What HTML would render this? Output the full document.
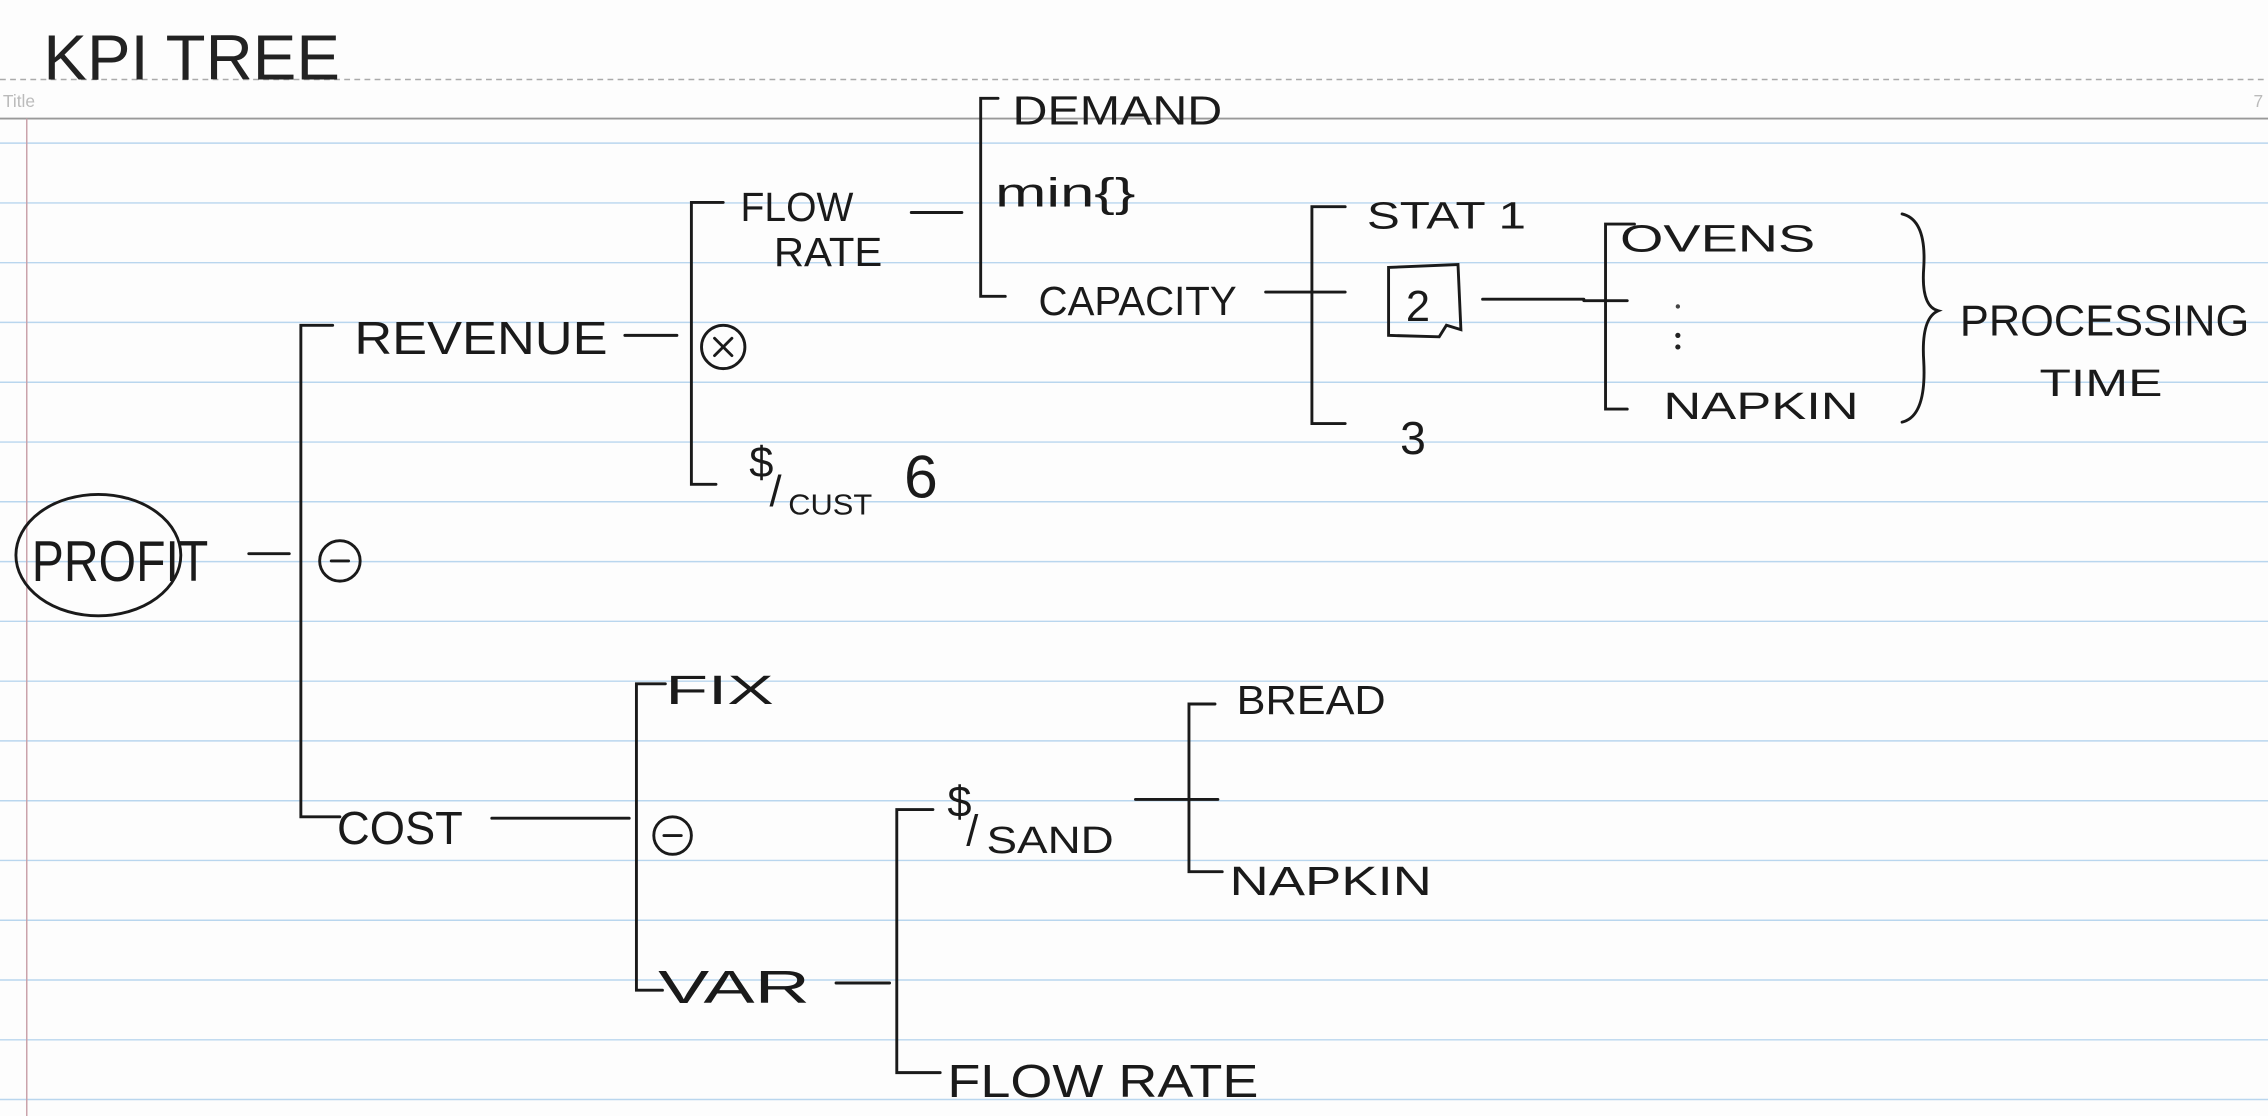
<!DOCTYPE html>
<html><head><meta charset="utf-8"><style>
html,body{margin:0;padding:0;background:#fdfdfd;}
svg{display:block;}
text{font-family:"Liberation Sans",sans-serif;fill:#1a1a1a;}
</style></head><body>
<svg width="2268" height="1116" viewBox="0 0 1568 772" preserveAspectRatio="none" xmlns="http://www.w3.org/2000/svg">
<rect width="1568" height="772" fill="#fdfdfd"/>
<g stroke="#b9d6ee" stroke-width="1">
<line x1="0" y1="99" x2="1568" y2="99"/><line x1="0" y1="140.4" x2="1568" y2="140.4"/><line x1="0" y1="181.7" x2="1568" y2="181.7"/><line x1="0" y1="223" x2="1568" y2="223"/><line x1="0" y1="264.4" x2="1568" y2="264.4"/><line x1="0" y1="305.8" x2="1568" y2="305.8"/><line x1="0" y1="347.1" x2="1568" y2="347.1"/><line x1="0" y1="388.5" x2="1568" y2="388.5"/><line x1="0" y1="429.8" x2="1568" y2="429.8"/><line x1="0" y1="471.2" x2="1568" y2="471.2"/><line x1="0" y1="512.5" x2="1568" y2="512.5"/><line x1="0" y1="553.9" x2="1568" y2="553.9"/><line x1="0" y1="595.2" x2="1568" y2="595.2"/><line x1="0" y1="636.6" x2="1568" y2="636.6"/><line x1="0" y1="677.9" x2="1568" y2="677.9"/><line x1="0" y1="719.3" x2="1568" y2="719.3"/><line x1="0" y1="760.6" x2="1568" y2="760.6"/>
</g>
<line x1="0" y1="55" x2="1568" y2="55" stroke="#aaa" stroke-width="1" stroke-dasharray="4,3"/>
<line x1="0" y1="82" x2="1568" y2="82" stroke="#999" stroke-width="1.3"/>
<line x1="18.5" y1="82" x2="18.5" y2="772" stroke="#c9a0a8" stroke-width="1"/>
<text x="2" y="74" font-size="12" style="fill:#bbb">Title</text>
<text x="1558" y="74" font-size="12" style="fill:#bbb">7</text>
<text x="30" y="55" font-size="44" textLength="205" lengthAdjust="spacingAndGlyphs" style="fill:#222">KPI TREE</text>

<g stroke="#1a1a1a" stroke-width="2" fill="none" stroke-linecap="round">
<ellipse cx="68" cy="384" rx="57" ry="42"/>
<line x1="172" y1="383" x2="200" y2="383"/>
<polyline points="230,225 208,225 208,565 235,565"/>
<circle cx="235" cy="388" r="14"/><line x1="229" y1="388" x2="241" y2="388"/>
<line x1="432" y1="232" x2="468" y2="232"/>
<polyline points="500,140 478,140 478,335 495,335"/>
<circle cx="500" cy="240" r="15"/><line x1="494" y1="234" x2="506" y2="246"/><line x1="506" y1="234" x2="494" y2="246"/>
<line x1="630" y1="147" x2="665" y2="147"/>
<polyline points="690,68 678,68 678,205 695,205"/>
<line x1="875" y1="202" x2="930" y2="202"/>
<polyline points="930,143 907,143 907,293 930,293"/>
<path d="M960,185 L1008,183 L1010,228 L1000,225 L995,233 L960,232 Z"/>
<line x1="1025" y1="207" x2="1095" y2="207"/>
<line x1="1095" y1="208" x2="1125" y2="208"/>
<polyline points="1130,155 1110,155 1110,283 1125,283"/>
<path d="M1315,148 Q1332,152 1330,185 Q1328,212 1340,215 Q1328,220 1330,250 Q1332,288 1315,292"/>
<line x1="340" y1="566" x2="435" y2="566"/>
<polyline points="460,473 440,473 440,685 458,685"/>
<circle cx="465" cy="578" r="13"/><line x1="459" y1="578" x2="471" y2="578"/>
<line x1="578" y1="680" x2="615" y2="680"/>
<polyline points="645,560 620,560 620,742 650,742"/>
<line x1="785" y1="553" x2="842" y2="553"/>
<polyline points="840,487 822,487 822,603 845,603"/>
</g>
<circle cx="1160" cy="212" r="1.5" fill="#444"/>
<circle cx="1160" cy="232" r="1.8" fill="#222"/><circle cx="1160" cy="240" r="1.8" fill="#222"/>

<g font-size="32">
<text x="22" y="402" font-size="40" textLength="122" lengthAdjust="spacingAndGlyphs">PROFIT</text>
<text x="245" y="245" textLength="175" lengthAdjust="spacingAndGlyphs">REVENUE</text>
<text x="512" y="153" font-size="28" textLength="78" lengthAdjust="spacingAndGlyphs">FLOW</text>
<text x="535" y="184" font-size="28" textLength="75" lengthAdjust="spacingAndGlyphs">RATE</text>
<text x="700" y="86" font-size="28" textLength="145" lengthAdjust="spacingAndGlyphs">DEMAND</text>
<text x="688" y="143" font-size="28" textLength="97" lengthAdjust="spacingAndGlyphs">min{}</text>
<text x="718" y="218" font-size="28" textLength="137" lengthAdjust="spacingAndGlyphs">CAPACITY</text>
<text x="945" y="158" font-size="26" textLength="110" lengthAdjust="spacingAndGlyphs">STAT 1</text>
<text x="972" y="222" font-size="30">2</text>
<text x="968" y="314" font-size="32">3</text>
<text x="1120" y="174" font-size="26" textLength="135" lengthAdjust="spacingAndGlyphs">OVENS</text>
<text x="1150" y="290" font-size="26" textLength="135" lengthAdjust="spacingAndGlyphs">NAPKIN</text>
<text x="1355" y="232" font-size="30" textLength="200" lengthAdjust="spacingAndGlyphs">PROCESSING</text>
<text x="1410" y="274" font-size="26" textLength="85" lengthAdjust="spacingAndGlyphs">TIME</text>
<text x="518" y="330" font-size="30">$</text>
<text x="532" y="350" font-size="30">/</text>
<text x="545" y="356" font-size="20" textLength="58" lengthAdjust="spacingAndGlyphs">CUST</text>
<text x="625" y="344" font-size="42">6</text>
<text x="233" y="584" textLength="87" lengthAdjust="spacingAndGlyphs">COST</text>
<text x="460" y="487" font-size="28" textLength="75" lengthAdjust="spacingAndGlyphs">FIX</text>
<text x="455" y="694" textLength="105" lengthAdjust="spacingAndGlyphs">VAR</text>
<text x="655" y="565" font-size="30">$</text>
<text x="668" y="585" font-size="30">/</text>
<text x="682" y="590" font-size="26" textLength="88" lengthAdjust="spacingAndGlyphs">SAND</text>
<text x="855" y="494" font-size="28" textLength="103" lengthAdjust="spacingAndGlyphs">BREAD</text>
<text x="850" y="619" font-size="28" textLength="140" lengthAdjust="spacingAndGlyphs">NAPKIN</text>
<text x="655" y="759" textLength="215" lengthAdjust="spacingAndGlyphs">FLOW RATE</text>
</g>
</svg>
</body></html>
